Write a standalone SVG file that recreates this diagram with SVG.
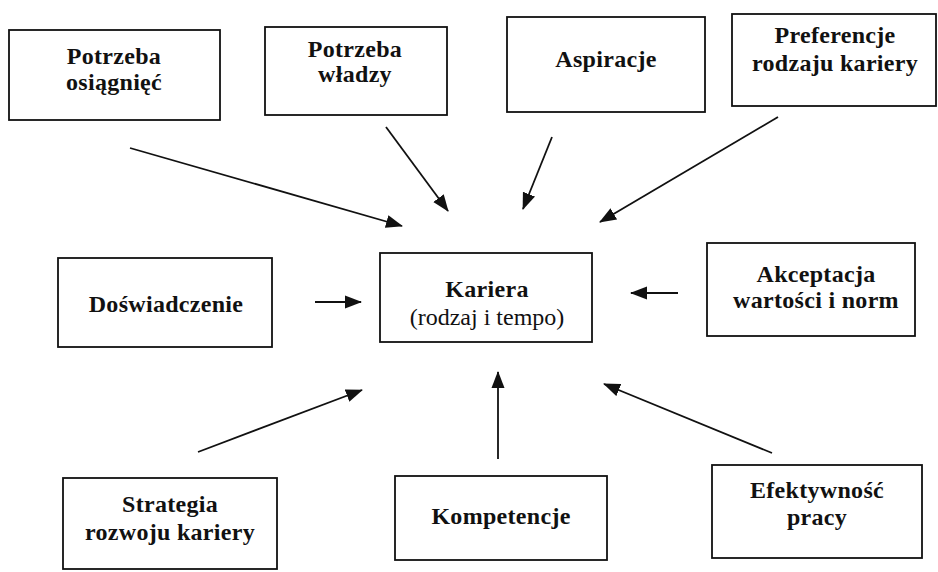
<svg xmlns="http://www.w3.org/2000/svg" width="938" height="572" viewBox="0 0 938 572">
  <style>
    .box { fill: #ffffff; stroke: #111111; stroke-width: 1.8; }
    .lbl { font-family: "Liberation Serif", "Times New Roman", serif; font-size: 24px; font-weight: bold; fill: #111111; text-anchor: middle; letter-spacing: 0.3px; }
    .sub { font-family: "Liberation Serif", "Times New Roman", serif; font-size: 24px; font-weight: normal; fill: #111111; text-anchor: middle; }
    .edge { stroke: #111111; stroke-width: 1.8; fill: none; marker-end: url(#head); }
  </style>
  <defs>
    <marker id="head" markerUnits="userSpaceOnUse" markerWidth="18" markerHeight="14" refX="16" refY="7" orient="auto">
      <path d="M0,0.5 L17,7 L0,13.5 Z" fill="#111111"/>
    </marker>
  </defs>
  <rect width="938" height="572" fill="#ffffff"/>

  <g id="potrzeba-osiagniec">
    <rect class="box" x="9" y="30" width="211" height="90"/>
    <text class="lbl" x="114" y="64">Potrzeba</text>
    <text class="lbl" x="114" y="90">osiągnięć</text>
  </g>
  <g id="potrzeba-wladzy">
    <rect class="box" x="265" y="27" width="182" height="88"/>
    <text class="lbl" x="355" y="57">Potrzeba</text>
    <text class="lbl" x="355" y="82">władzy</text>
  </g>
  <g id="aspiracje">
    <rect class="box" x="507" y="17" width="198" height="95"/>
    <text class="lbl" x="606" y="67">Aspiracje</text>
  </g>
  <g id="preferencje">
    <rect class="box" x="732" y="14" width="204" height="92"/>
    <text class="lbl" x="835" y="43">Preferencje</text>
    <text class="lbl" x="835" y="71">rodzaju kariery</text>
  </g>
  <g id="doswiadczenie">
    <rect class="box" x="58" y="258" width="214" height="89"/>
    <text class="lbl" x="166" y="312">Doświadczenie</text>
  </g>
  <g id="kariera">
    <rect class="box" x="380" y="253" width="212" height="89"/>
    <text class="lbl" x="487" y="297">Kariera</text>
    <text class="sub" x="487" y="325">(rodzaj i tempo)</text>
  </g>
  <g id="akceptacja">
    <rect class="box" x="707" y="243" width="208" height="93"/>
    <text class="lbl" x="816" y="282">Akceptacja</text>
    <text class="lbl" x="816" y="308">wartości i norm</text>
  </g>
  <g id="strategia">
    <rect class="box" x="63" y="478" width="214" height="91"/>
    <text class="lbl" x="170" y="512">Strategia</text>
    <text class="lbl" x="170" y="540">rozwoju kariery</text>
  </g>
  <g id="kompetencje">
    <rect class="box" x="395" y="476" width="212" height="84"/>
    <text class="lbl" x="501" y="524">Kompetencje</text>
  </g>
  <g id="efektywnosc">
    <rect class="box" x="712" y="465" width="210" height="93"/>
    <text class="lbl" x="817" y="498">Efektywność</text>
    <text class="lbl" x="817" y="525">pracy</text>
  </g>

  <g id="connectors">
    <line class="edge" x1="130" y1="148" x2="402" y2="226"/>
    <line class="edge" x1="386" y1="127" x2="448" y2="211"/>
    <line class="edge" x1="552" y1="137" x2="523" y2="209"/>
    <line class="edge" x1="778" y1="117" x2="600" y2="222"/>
    <line class="edge" x1="315" y1="302" x2="361" y2="302"/>
    <line class="edge" x1="678" y1="293" x2="631" y2="293"/>
    <line class="edge" x1="198" y1="452" x2="362" y2="390"/>
    <line class="edge" x1="498" y1="459" x2="498" y2="372"/>
    <line class="edge" x1="772" y1="453" x2="604" y2="384"/>
  </g>
</svg>
